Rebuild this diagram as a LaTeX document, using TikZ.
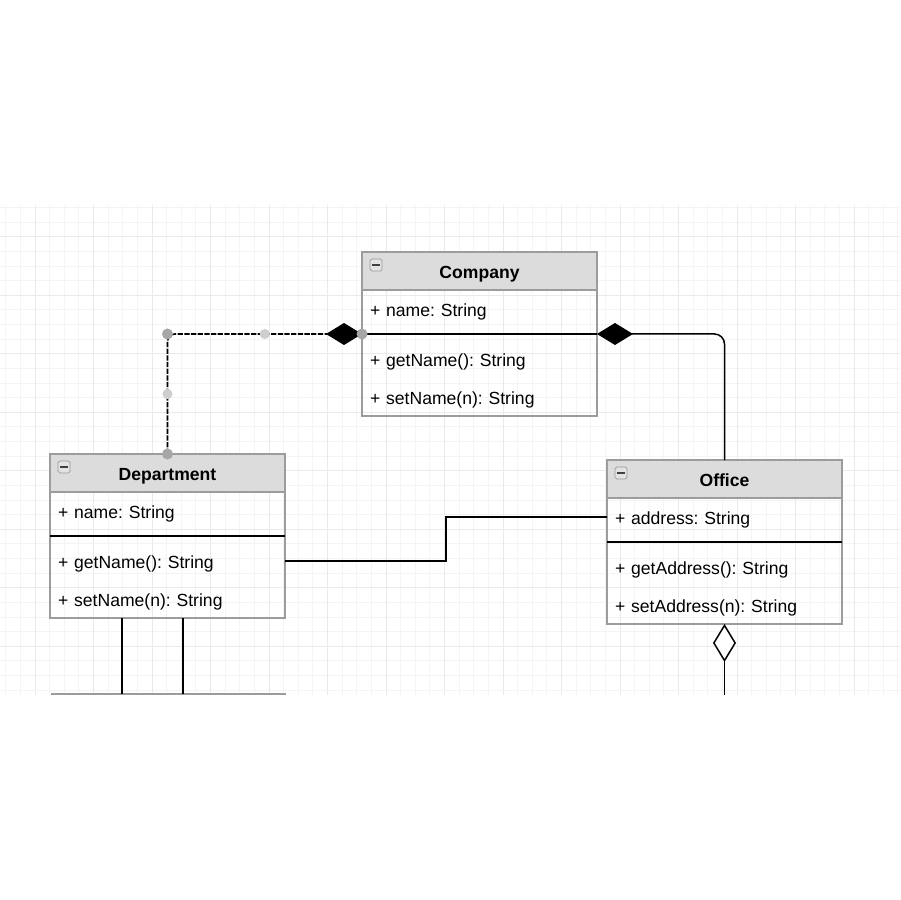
\documentclass[tikz,border=0pt]{standalone}
\usepackage{fontspec}
\setmainfont{Liberation Sans}
\usetikzlibrary{arrows.meta,positioning,calc}
\definecolor{frame}{HTML}{9C9C9C}
\definecolor{headfill}{HTML}{DCDCDC}
\definecolor{gridmin}{HTML}{F4F4F4}
\definecolor{gridmaj}{HTML}{EAEAEA}
\definecolor{handle}{HTML}{A6A6A6}
\tikzset{
  head/.style={draw=frame,line width=0.7pt,fill=headfill,minimum width=4.7cm,
               minimum height=0.76cm,outer sep=0pt,inner sep=0pt,font=\bfseries,
               text height=8pt,text depth=0pt},
  row/.style={minimum height=0.76cm,text width=4.38cm,inner xsep=0.16cm,
              inner ysep=0pt,align=left,outer sep=0pt,text height=8pt,text depth=0pt},
  gap/.style={minimum height=0.24cm,minimum width=4.7cm,inner sep=0pt,outer sep=0pt},
  border/.style={draw=frame,line width=0.7pt},
  sepline/.style={line width=0.7pt,black},
  minus/.style={draw=gray!80,fill=gray!22,rounded corners=1pt,minimum size=0.24cm,
                inner sep=0pt,line width=0.4pt,
                path picture={\draw[line width=0.9pt,black!75]
                  ([xshift=1.3pt]path picture bounding box.west) --
                  ([xshift=-1.3pt]path picture bounding box.east);}},
  conn/.style={line width=0.85pt,black},
  compo/.style={conn,rounded corners=0.2cm,-{Diamond[length=0.72cm,width=0.44cm]}},
  selline/.style={line width=0.9pt,black,dash pattern=on 3pt off 0.8pt,
                  rounded corners=0.15cm,-{Diamond[length=0.72cm,width=0.44cm]}},
  aggr/.style={conn,-{Diamond[open,fill=white,length=0.76cm,width=0.46cm]}},
  handledot/.style={circle,fill=handle,inner sep=0pt,minimum size=0.22cm},
  faintdot/.style={circle,fill=handle!55,inner sep=0pt,minimum size=0.2cm}
}
\begin{document}
\frenchspacing
\begin{tikzpicture}[x=0.02cm,y=-0.02cm,font=\fontsize{10}{12}\selectfont]
  \useasboundingbox[fill=white] (0,0) rectangle (900,900);
  % grid
  \begin{scope}
    \clip (0,205) rectangle (900,695);
    \foreach \i in {0,...,62} \draw[gridmin,line width=0.5pt] ({-8.875+\i*14.625},205) -- ++(0,490);
    \foreach \i in {0,...,33} \draw[gridmin,line width=0.5pt] (0,{207.45+\i*14.625}) -- ++(900,0);
    \foreach \i in {0,...,15} \draw[gridmaj,line width=0.5pt] ({35+\i*58.5},205) -- ++(0,490);
    \foreach \i in {0,...,8} \draw[gridmaj,line width=0.5pt] (0,{236.7+\i*58.5}) -- ++(900,0);
  \end{scope}

  % Company
  \node[head] (comp-head) at (479.5,271) {Company};
  \node[row,below=0pt of comp-head] (comp-attr) {+ name: String};
  \node[gap,below=0pt of comp-attr] (comp-sep) {};
  \node[row,below=0pt of comp-sep] (comp-get) {+ getName(): String};
  \node[row,below=0pt of comp-get] (comp-set) {+ setName(n): String};
  \draw[border] (comp-head.north west) rectangle (comp-set.south east);
  \draw[sepline] (comp-sep.west) -- (comp-sep.east);
  \node[minus] at ($(comp-head.north west)+(14,13)$) {};

  % Department
  \node[head] (dept-head) at (167.5,473) {Department};
  \node[row,below=0pt of dept-head] (dept-attr) {+ name: String};
  \node[gap,below=0pt of dept-attr] (dept-sep) {};
  \node[row,below=0pt of dept-sep] (dept-get) {+ getName(): String};
  \node[row,below=0pt of dept-get] (dept-set) {+ setName(n): String};
  \draw[border] (dept-head.north west) rectangle (dept-set.south east);
  \draw[sepline] (dept-sep.west) -- (dept-sep.east);
  \node[minus] at ($(dept-head.north west)+(14,13)$) {};

  % Office
  \node[head] (off-head) at (724.5,479) {Office};
  \node[row,below=0pt of off-head] (off-attr) {+ address: String};
  \node[gap,below=0pt of off-attr] (off-sep) {};
  \node[row,below=0pt of off-sep] (off-get) {+ getAddress(): String};
  \node[row,below=0pt of off-get] (off-set) {+ setAddress(n): String};
  \draw[border] (off-head.north west) rectangle (off-set.south east);
  \draw[sepline] (off-sep.west) -- (off-sep.east);
  \node[minus] at ($(off-head.north west)+(14,13)$) {};

  % class cut off below
  \coordinate (low-nw) at (51,694);
  \coordinate (low-ne) at (286,694);
  \draw[border] (low-nw) -- (low-ne);
  \coordinate (dept-out1) at ($(dept-set.south west)+(72,0)$);
  \coordinate (dept-out2) at ($(dept-set.south west)+(133,0)$);
  \draw[conn] (dept-out1) -- (dept-out1 |- low-nw);
  \draw[conn] (dept-out2) -- (dept-out2 |- low-nw);

  % connectors
  \draw[selline] (dept-head.north) |- (comp-sep.west);
  \draw[compo] (off-head.north) |- (comp-sep.east);
  \coordinate (mid) at ($(dept-get.east)!0.5!(off-attr.west)$);
  \draw[conn] (dept-get.east) -| (mid) |- (off-attr.west);
  \coordinate (off-tail) at ($(off-set.south)+(0,71)$);
  \draw[aggr] (off-tail) -- (off-set.south);

  % selection handles
  \node[faintdot] (h-mid1) at ($(dept-head.north |- comp-sep.west)!0.5!(comp-sep.west)$) {};
  \node[faintdot] (h-mid2) at ($(dept-head.north |- comp-sep.west)!0.5!(dept-head.north)$) {};
  \node[handledot] (h-src) at (dept-head.north) {};
  \node[handledot] (h-bend) at (dept-head.north |- comp-sep.west) {};
  \node[handledot] (h-dst) at (comp-sep.west) {};
\end{tikzpicture}
\end{document}
